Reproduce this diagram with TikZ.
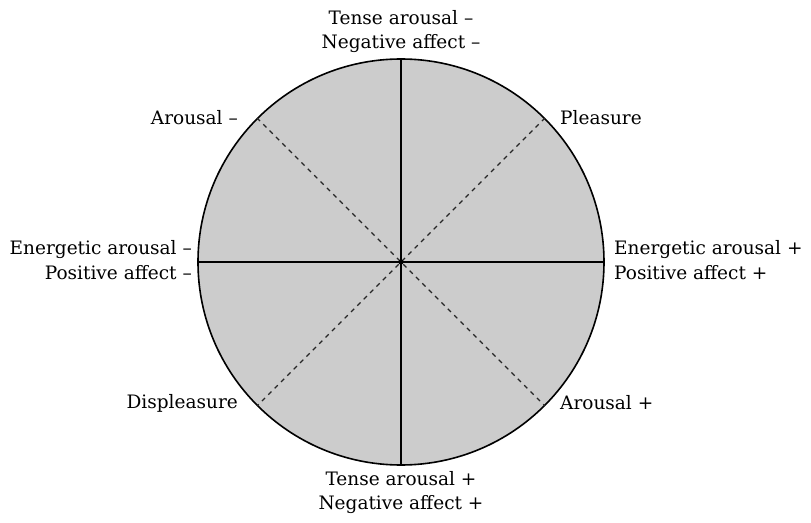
\documentclass[tikz,border=0pt]{standalone}
\usepackage{fontspec}
\setmainfont{DejaVu Serif}
\usetikzlibrary{positioning}

\tikzset{
  wheel/.style={circle, draw=black, line width=1.6pt, fill=black!20, minimum size=406pt, inner sep=0pt},
  axisline/.style={black, line width=1.1pt},
  diagline/.style={black!85, line width=1.1pt, dash pattern=on 4.5pt off 4.5pt},
  affectlabel/.style={font=\fontsize{18.5}{24.5}\selectfont, inner sep=2pt}
}

\begin{document}
\begin{tikzpicture}[x=1pt, y=1pt]

    % Frame of the picture
    \useasboundingbox (-401,-260) rectangle (410,262);

    % Affect circle
    \node[wheel] (wheel) at (0,0) {};
    \coordinate (mid) at (wheel.center);

    % Axes through the centre
    \draw[axisline] (wheel.north) -- (wheel.south);
    \draw[axisline] (wheel.west) -- (wheel.east);

    % Diagonals
    \draw[diagline] (wheel.45) -- (wheel.225);
    \draw[diagline] (wheel.135) -- (wheel.-45);
    \fill (mid) circle (2.6pt);

    % Labels round the circle
    \node[affectlabel, align=center, anchor=south] (tense-) at (0,207) {Tense arousal --\\Negative affect --};
    \node[affectlabel, align=center, anchor=north] (tense+) at (0,-207) {Tense arousal +\\Negative affect +};
    \node[affectlabel, align=right, anchor=east] (energ-) at (-207,2) {Energetic arousal --\\Positive affect --};
    \node[affectlabel, align=left, anchor=west] (energ+) at (211,2) {Energetic arousal +\\Positive affect +};
    \node[affectlabel, anchor=east] (arous-) at (-161,144) {Arousal --};
    \node[affectlabel, anchor=west] (pleas) at (157,144) {Pleasure};
    \node[affectlabel, anchor=east] (displ) at (-161,-141) {Displeasure};
    \node[affectlabel, anchor=west] (arous+) at (157,-141) {Arousal +};

\end{tikzpicture}
\end{document}
